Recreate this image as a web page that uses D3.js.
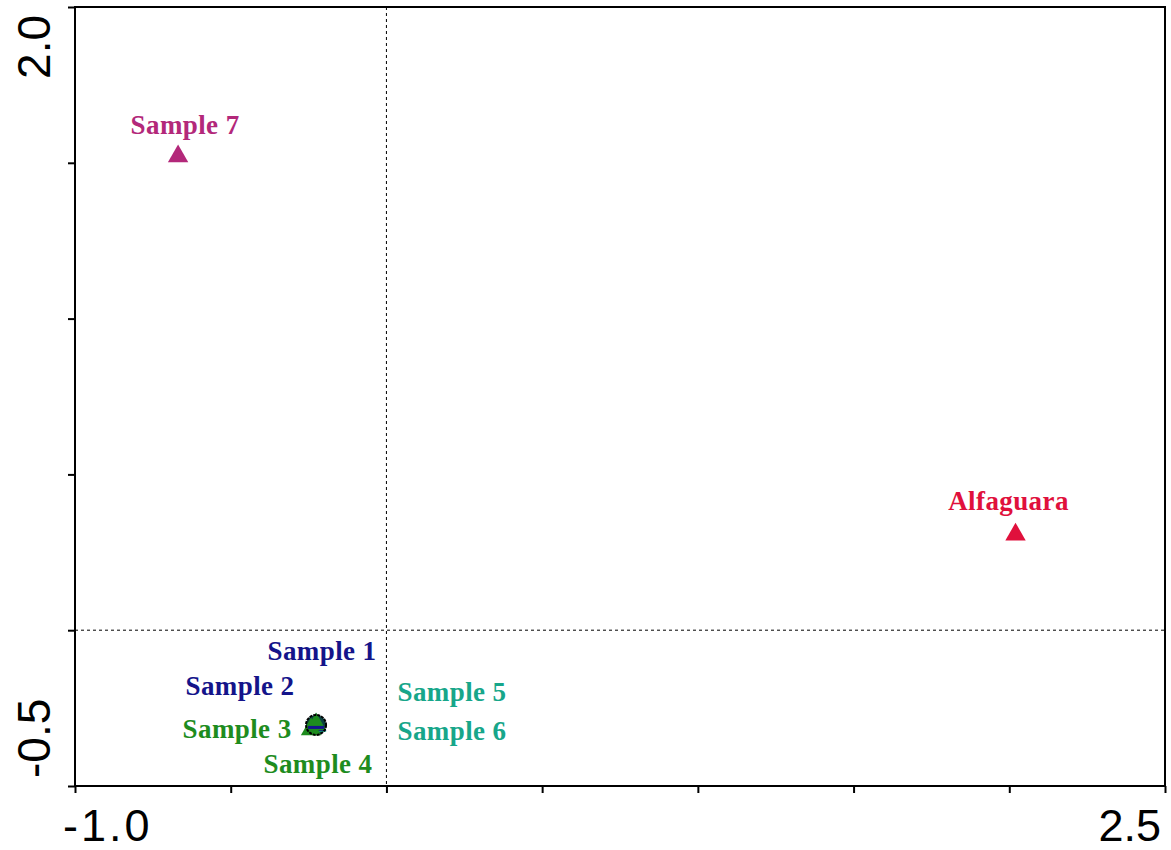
<!DOCTYPE html>
<html>
<head>
<meta charset="utf-8">
<script src="https://cdn.jsdelivr.net/npm/d3@7"></script>
<style>
  html, body { margin: 0; padding: 0; background: #fff; }
  svg { display: block; }
</style>
</head>
<body>
<svg id="chart" width="1171" height="850"></svg>
<script>
// ---- data ----
const names   = ["Sample 5", "Sample 6", "Sample 1", "Sample 2", "Sample 3", "Sample 4", "Sample 7", "Alfaguara"];
const xValues = [-0.226, -0.226, -0.226, -0.226, -0.242, -0.226, -0.669, 2.02];
const yValues = [-0.306, -0.306, -0.304, -0.304, -0.318, -0.302, 1.521, 0.307];
const colors  = ["#17a68a", "#17a68a", "#14148a", "#14148a", "#1e8c1e", "#1e8c1e", "#b3287a", "#e0103c"];
// label offsets (pixels, from point) - layout only
const labelDx = [136, 136, 6, -76, -74, 2, 7, -7];
const labelDy = [-25, 14, -65, -30, 9, 49, -22, -25];

const xTicks = [-1.0, -0.5, 0, 0.5, 1.0, 1.5, 2.0, 2.5];
const yTicks = [-0.5, 0, 0.5, 1.0, 1.5, 2.0];
const xTickLabels = ["-1.0", "2.5"];
const yTickLabels = ["2.0", "-0.5"];

// ---- layout ----
const svg = d3.select("#chart");
const L = 75, R = 1165, T = 7, B = 786;
const x = d3.scaleLinear().domain([-1.0, 2.5]).range([L, R]);
const y = d3.scaleLinear().domain([-0.5, 2.0]).range([B, T]);

// frame
svg.append("rect").attr("x", L).attr("y", T).attr("width", R - L).attr("height", B - T)
  .attr("fill", "none").attr("stroke", "#000").attr("stroke-width", 2);

// axes ticks
const xAxis = d3.axisBottom(x).tickValues(xTicks).tickSize(7).tickFormat("");
svg.append("g").attr("transform", `translate(0,${B})`).call(xAxis)
  .call(g => { g.select(".domain").remove(); g.selectAll("line").attr("stroke-width", 2); });
const yAxis = d3.axisLeft(y).tickValues(yTicks).tickSize(7).tickFormat("");
svg.append("g").attr("transform", `translate(${L},0)`).call(yAxis)
  .call(g => { g.select(".domain").remove(); g.selectAll("line").attr("stroke-width", 2); });

// zero lines
svg.append("line").attr("x1", x(0)).attr("x2", x(0)).attr("y1", T).attr("y2", B)
  .attr("stroke", "#000").attr("stroke-width", 1).attr("stroke-dasharray", "3,3");
svg.append("line").attr("x1", L).attr("x2", R).attr("y1", y(0)).attr("y2", y(0))
  .attr("stroke", "#000").attr("stroke-width", 1).attr("stroke-dasharray", "3,3");

// tick labels
const tickFont = "'Liberation Sans', Arial, sans-serif";
svg.append("text").attr("x", x(-1.0) - 12).attr("y", 841)
  .attr("font-family", tickFont).attr("font-size", 45).attr("text-anchor", "start")
  .attr("letter-spacing", 3)
  .text(xTickLabels[0]);
svg.append("text").attr("x", x(2.5) - 4).attr("y", 841)
  .attr("font-family", tickFont).attr("font-size", 45).attr("text-anchor", "end")
  .text(xTickLabels[1]);
svg.append("text").attr("transform", `translate(50,${y(2.0) + 8}) rotate(-90)`)
  .attr("font-family", tickFont).attr("font-size", 46).attr("text-anchor", "end")
  .text(yTickLabels[0]);
svg.append("text").attr("transform", `translate(50,${y(-0.5) - 8}) rotate(-90)`)
  .attr("font-family", tickFont).attr("font-size", 46).attr("text-anchor", "start")
  .text(yTickLabels[1]);

// points
const idx = d3.range(names.length);
const tri = d3.symbol().type(d3.symbolTriangle).size(180);
svg.append("circle").attr("cx", x(xValues[2])).attr("cy", y(yValues[2])).attr("r", 10)
  .attr("fill", "#0b4040");
svg.append("g").selectAll("path").data(idx).join("path")
  .attr("d", tri)
  .attr("transform", i => `translate(${x(xValues[i])},${y(yValues[i])})`)
  .attr("fill", i => colors[i]);
svg.append("circle").attr("cx", x(xValues[2])).attr("cy", y(yValues[2])).attr("r", 10)
  .attr("fill", "none").attr("stroke", "#000").attr("stroke-width", 2).attr("stroke-dasharray", "3,1");
svg.append("rect").attr("x", x(xValues[2]) - 8).attr("y", y(yValues[2]) + 1).attr("width", 16).attr("height", 3)
  .attr("fill", colors[2]);

// labels
svg.append("g").selectAll("text").data(idx).join("text")
  .attr("x", i => x(xValues[i]) + labelDx[i])
  .attr("y", i => y(yValues[i]) + labelDy[i])
  .attr("text-anchor", "middle")
  .attr("font-family", "'Liberation Serif', 'Times New Roman', serif")
  .attr("font-weight", "bold")
  .attr("font-size", 27)
  .attr("letter-spacing", 0.4)
  .attr("fill", i => colors[i])
  .text(i => names[i]);
</script>
</body>
</html>
